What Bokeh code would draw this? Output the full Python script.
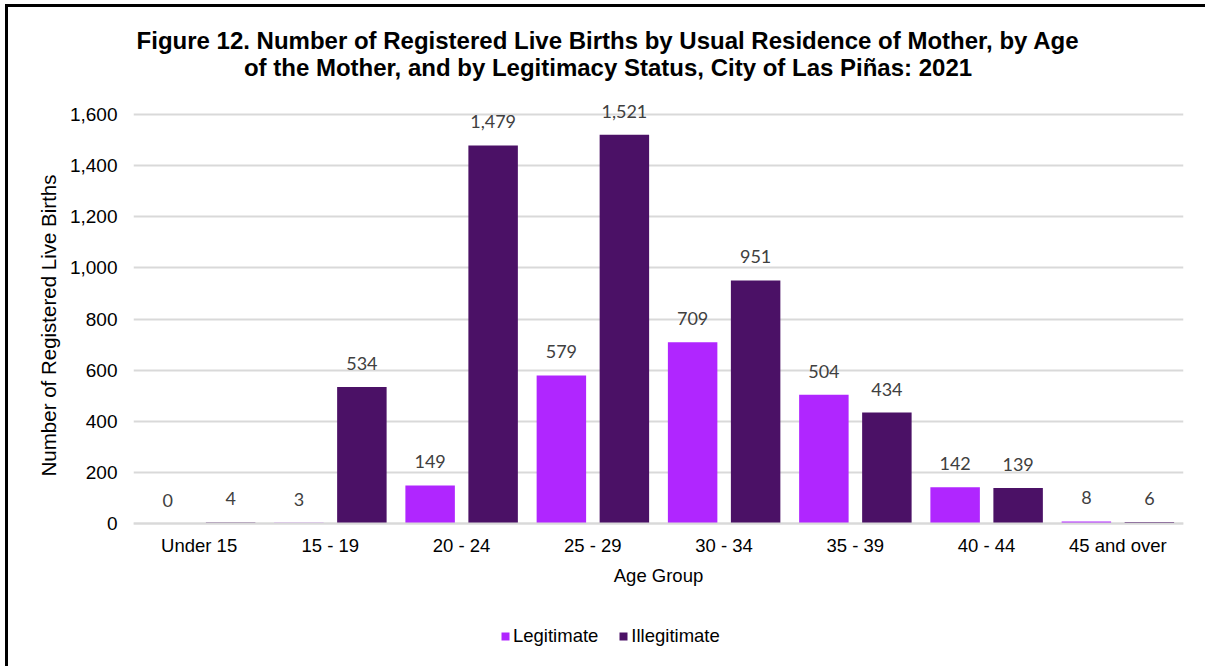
from bokeh.plotting import figure
from bokeh.models import (ColumnDataSource, FactorRange, Range1d, LabelSet, Label,
                          Legend, LegendItem, FixedTicker, NumeralTickFormatter,
                          InlineStyleSheet)
from bokeh.core.properties import value
from bokeh.transform import dodge
from bokeh.embed import file_html
from bokeh.resources import INLINE

categories = ["Under 15", "15 - 19", "20 - 24", "25 - 29", "30 - 34", "35 - 39", "40 - 44", "45 and over"]
legitimate = [0, 3, 149, 579, 709, 504, 142, 8]
illegitimate = [4, 534, 1479, 1521, 951, 434, 139, 6]
y_ticks = [0, 200, 400, 600, 800, 1000, 1200, 1400, 1600]

title_line1 = "Figure 12. Number of Registered Live Births by Usual Residence of Mother, by Age"
title_line2 = "of the Mother, and by Legitimacy Status, City of Las Piñas: 2021"

LEGIT_COLOR = "#B026FF"
ILLEGIT_COLOR = "#4B1166"

src = ColumnDataSource(dict(
    cat=categories,
    legit=legitimate,
    illegit=illegitimate,
    legit_lbl=[f"{v:,}" for v in legitimate],
    illegit_lbl=[f"{v:,}" for v in illegitimate],
))

# layout (page pixels)
W, H = 1189, 650
FL, FR, FB = 133, 1183, 523          # frame left / right, pixel row of value 0
Y1600 = 114                          # pixel row of the 1,600 gridline
per_px = 1600 / (FB - Y1600)

p = figure(width=W, height=H, x_range=FactorRange(*categories, range_padding=0),
           y_range=Range1d(-(H - FB) * per_px, FB * per_px),
           output_backend="svg", toolbar_location=None,
           min_border_left=FL, min_border_right=W - FR, min_border_top=0,
           min_border_bottom=0)
p.outline_line_color = None
p.background_fill_color = "white"
p.border_fill_color = "white"
# thin black frame on the left and top edges, as in the reference picture
p.stylesheets = [InlineStyleSheet(css=(
    ":host::after { content: ''; position: absolute; left: 5px; top: 4px; "
    "width: calc(100vw - 5px); height: calc(100vh - 4px); "
    "border-left: 3px solid #000; border-top: 3px solid #000; "
    "box-sizing: border-box; pointer-events: none; }"))]

OFF = 0.24
BW = 0.377
r1 = p.vbar(x=dodge("cat", -OFF, range=p.x_range), top="legit", width=BW, source=src,
            fill_color=LEGIT_COLOR, line_color=None)
r2 = p.vbar(x=dodge("cat", OFF, range=p.x_range), top="illegit", width=BW, source=src,
            fill_color=ILLEGIT_COLOR, line_color=None)

for col, ycol, off in (("legit_lbl", "legit", -OFF), ("illegit_lbl", "illegit", OFF)):
    p.add_layout(LabelSet(x=dodge("cat", off, range=p.x_range), y=ycol, text=col, source=src,
                          y_offset=17, text_align="center", text_baseline="alphabetic",
                          text_font=value("Lato"), text_font_size=value("18px"),
                          text_color="#404040"))

# axes
p.yaxis.ticker = FixedTicker(ticks=y_ticks)
p.yaxis.formatter = NumeralTickFormatter(format="0,0")
p.yaxis.axis_line_color = None
p.yaxis.major_tick_line_color = None
p.yaxis.minor_tick_line_color = None
p.yaxis.major_tick_out = 0
p.yaxis.minor_tick_out = 0
p.yaxis.major_label_standoff = 16
p.yaxis.major_label_text_font = "Liberation Sans"
p.yaxis.major_label_text_font_size = "19px"
p.yaxis.major_label_text_color = "#000000"
p.yaxis.axis_label = "Number of Registered Live Births"
p.yaxis.axis_label_text_font = "Liberation Sans"
p.yaxis.axis_label_text_font_size = "20.5px"
p.yaxis.axis_label_text_font_style = "normal"
p.yaxis.axis_label_text_color = "#000000"
p.yaxis.axis_label_standoff = 7

p.xaxis.fixed_location = 0
p.xaxis.axis_line_color = "#D9D9D9"
p.xaxis.axis_line_width = 2
p.xaxis.major_tick_line_color = None
p.xaxis.minor_tick_line_color = None
p.xaxis.major_tick_out = 0
p.xaxis.minor_tick_out = 0
p.xaxis.major_label_standoff = 11
p.xaxis.major_label_text_font = "Liberation Sans"
p.xaxis.major_label_text_font_size = "18.5px"
p.xaxis.major_label_text_color = "#000000"
p.xaxis.axis_label = "Age Group"
p.xaxis.axis_label_text_font = "Liberation Sans"
p.xaxis.axis_label_text_font_size = "18.5px"
p.xaxis.axis_label_text_font_style = "normal"
p.xaxis.axis_label_text_color = "#000000"
p.xaxis.axis_label_standoff = 6

p.xgrid.grid_line_color = None
p.ygrid.grid_line_color = "#D9D9D9"
p.ygrid.grid_line_width = 2

# the two title lines (frame-relative screen units; frame spans the full height)
cx = 607.5 - FL
for txt, base in ((title_line1, 40), (title_line2, 66.5)):
    p.add_layout(Label(x=cx, y=H - base, x_units="screen", y_units="screen",
                       text=txt, text_align="center", text_baseline="alphabetic",
                       text_font="Liberation Sans", text_font_size="24px",
                       text_font_style="bold", text_color="#000000"))

legend = Legend(items=[LegendItem(label="Legitimate", renderers=[r1]),
                       LegendItem(label="Illegitimate", renderers=[r2])],
                orientation="horizontal", location=(502 - FL - 2, 3),
                glyph_width=10, glyph_height=10, label_standoff=3, spacing=20,
                label_text_font="Liberation Sans", label_text_font_size="18.5px",
                label_text_color="#000000", border_line_color=None,
                background_fill_alpha=0, padding=2, margin=0)
p.add_layout(legend, "center")

open("out.html", "w").write(file_html(p, INLINE))
